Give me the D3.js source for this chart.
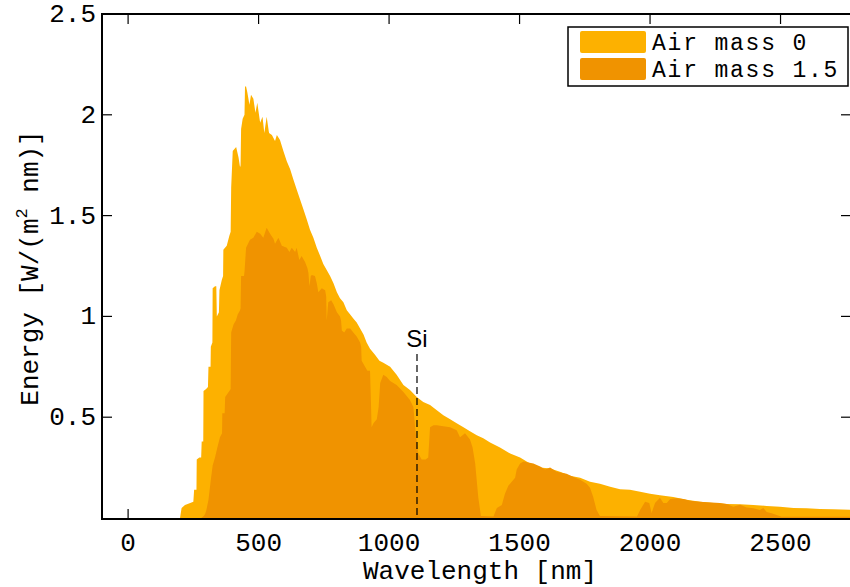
<!DOCTYPE html>
<html>
<head>
<meta charset="utf-8">
<script src="https://cdn.jsdelivr.net/npm/d3@7"></script>
<style>
  html, body { margin: 0; padding: 0; background: #fff; }
  svg { display: block; }
</style>
</head>
<body>
<svg id="chart" width="850" height="587"></svg>
<script>
// ---- data ----
const am0Wavelength = [199,205,218,238,250,253,262,263,273,280,282,288,289,299,306,308,316,317,323,324,333,338,340,348,350,359,364,365,378,388,393,395,401,414,423,429,431,433,439,446,448,452,457,465,471,480,488,495,506,515,522,531,540,551,563,570,582,595,608,621,633,646,659,672,685,697,710,723,736,748,761,774,787,800,812,825,838,851,863,876,889,902,914,927,946,963,978,1004,1029,1055,1080,1106,1131,1157,1183,1208,1234,1259,1285,1310,1336,1361,1387,1425,1464,1502,1540,1579,1617,1655,1693,1732,1770,1808,1847,1885,1923,1962,2000,2038,2089,2140,2192,2243,2294,2345,2396,2447,2498,2550,2600,2651,2702,2766,2800];
const am0Energy = [0.0,0.05,0.065,0.074,0.08,0.14,0.14,0.29,0.30,0.30,0.38,0.38,0.63,0.64,0.65,0.75,0.75,0.85,0.87,1.14,1.15,1.15,1.0,1.02,1.13,1.18,1.2,1.33,1.35,1.40,1.42,1.64,1.82,1.84,1.79,1.74,1.75,1.93,1.98,2.0,2.14,2.14,2.11,2.05,2.10,2.08,2.01,2.06,1.96,1.99,1.91,1.99,1.91,1.90,1.87,1.90,1.875,1.82,1.77,1.73,1.68,1.63,1.58,1.53,1.48,1.43,1.39,1.34,1.30,1.26,1.23,1.20,1.165,1.12,1.09,1.07,1.03,1.01,0.99,0.97,0.94,0.91,0.87,0.84,0.81,0.78,0.77,0.75,0.71,0.66,0.635,0.60,0.575,0.56,0.535,0.51,0.49,0.47,0.45,0.43,0.41,0.395,0.375,0.35,0.32,0.30,0.27,0.25,0.245,0.23,0.21,0.20,0.18,0.17,0.155,0.143,0.14,0.13,0.12,0.113,0.104,0.09,0.08,0.075,0.07,0.068,0.064,0.06,0.056,0.05,0.048,0.045,0.044,0.041,0.04];

const am15Wavelength = [280,290,295,300,308,317,324,333,342,352,360,361,370,372,388,393,395,404,413,420,429,431,433,444,446,452,467,480,493,506,518,531,544,557,563,576,589,608,618,627,640,646,656,665,678,687,691,695,700,704,716,723,729,742,755,759,761,765,767,778,787,800,812,816,819,828,838,851,863,876,889,893,895,908,917,927,930,933,940,953,960,966,978,991,1004,1029,1055,1080,1093,1102,1112,1125,1140,1150,1157,1170,1183,1208,1234,1259,1272,1291,1310,1320,1330,1342,1352,1400,1413,1432,1444,1457,1470,1483,1489,1502,1515,1553,1579,1598,1617,1642,1680,1713,1732,1757,1770,1782,1795,1808,1950,1962,1981,1997,2006,2019,2038,2051,2064,2077,2102,2128,2153,2192,2218,2268,2294,2319,2345,2370,2396,2421,2434,2447,2466,2485,2504,2800];
const am15Energy = [0,0.01,0.02,0.04,0.09,0.19,0.26,0.30,0.35,0.40,0.42,0.52,0.52,0.60,0.63,0.64,0.92,0.96,0.98,1.01,1.03,1.04,1.20,1.20,1.22,1.34,1.38,1.39,1.42,1.41,1.39,1.44,1.41,1.385,1.36,1.39,1.35,1.34,1.32,1.34,1.32,1.34,1.28,1.30,1.27,1.24,1.215,1.15,1.2,1.205,1.20,1.165,1.12,1.14,1.13,1.10,0.98,1.04,1.07,1.08,1.06,1.02,1.00,0.98,0.93,0.92,0.94,0.94,0.92,0.90,0.87,0.85,0.78,0.75,0.73,0.73,0.6,0.45,0.47,0.49,0.55,0.67,0.71,0.70,0.68,0.66,0.625,0.585,0.55,0.42,0.32,0.29,0.29,0.30,0.45,0.46,0.46,0.455,0.45,0.435,0.40,0.42,0.39,0.35,0.27,0.10,0.01,0.008,0.05,0.065,0.12,0.16,0.18,0.20,0.24,0.27,0.28,0.27,0.255,0.24,0.25,0.23,0.22,0.20,0.19,0.17,0.15,0.105,0.04,0.01,0.008,0.04,0.08,0.075,0.025,0.075,0.10,0.074,0.074,0.094,0.098,0.094,0.086,0.08,0.078,0.074,0.07,0.056,0.066,0.052,0.048,0.04,0.05,0.03,0.024,0.015,0.006,0.006];

const seriesNames = ["Air mass 0", "Air mass 1.5"];
const seriesColors = ["#FDB100", "#F09300"];
const xTicks = [0, 500, 1000, 1500, 2000, 2500];
const yTicks = [0.5, 1, 1.5, 2, 2.5];
const siWavelength = 1107;
const siLabel = "Si";

// ---- layout ----
const svg = d3.select("#chart");
const L = 102, R = 851, T = 14, B = 519;
const x = d3.scaleLinear().domain([-100, 2770]).range([L, R]);
const y = d3.scaleLinear().domain([0, 2.5]).range([518, 14]);
const tickLen = 10;
const fontMono = '"Liberation Mono", "Courier New", monospace';

svg.append("defs").append("clipPath").attr("id", "plotclip")
  .append("rect").attr("x", L).attr("y", T).attr("width", R - L).attr("height", B - T);

// ticks (under the fills)
const tickG = svg.append("g").attr("stroke", "#000").attr("stroke-width", 1.2);
xTicks.forEach(t => {
  tickG.append("line").attr("x1", x(t)).attr("x2", x(t)).attr("y1", B).attr("y2", B - tickLen);
  tickG.append("line").attr("x1", x(t)).attr("x2", x(t)).attr("y1", T).attr("y2", T + tickLen);
});
yTicks.forEach(t => {
  tickG.append("line").attr("x1", L).attr("x2", L + tickLen).attr("y1", y(t)).attr("y2", y(t));
  tickG.append("line").attr("x1", R).attr("x2", R - tickLen).attr("y1", y(t)).attr("y2", y(t));
});

// areas
const area = d3.area().x(d => x(d[0])).y0(y(0)).y1(d => y(d[1])).curve(d3.curveLinear);
const am0 = am0Wavelength.map((w, i) => [w, am0Energy[i]]);
const am15 = am15Wavelength.map((w, i) => [w, am15Energy[i]]);
const plot = svg.append("g").attr("clip-path", "url(#plotclip)");
plot.append("path").datum(am0).attr("d", area).attr("fill", seriesColors[0]);
plot.append("path").datum(am15).attr("d", area).attr("fill", seriesColors[1]);

// Si marker
plot.append("line")
  .attr("x1", x(siWavelength)).attr("x2", x(siWavelength))
  .attr("y1", 354).attr("y2", B)
  .attr("stroke", "#000").attr("stroke-width", 1.2).attr("stroke-dasharray", "7,4");
svg.append("text").attr("x", x(siWavelength)).attr("y", 347)
  .attr("text-anchor", "middle")
  .attr("font-family", '"Liberation Sans", Arial, sans-serif')
  .attr("font-size", 24).text(siLabel);

// frame
svg.append("rect").attr("x", L).attr("y", T).attr("width", R - L).attr("height", B - T)
  .attr("fill", "none").attr("stroke", "#000").attr("stroke-width", 2);

// tick labels
xTicks.forEach(t => {
  svg.append("text").attr("x", x(t)).attr("y", 551).attr("text-anchor", "middle")
    .attr("font-family", fontMono).attr("font-size", 26).text(t);
});
yTicks.forEach(t => {
  svg.append("text").attr("x", 96).attr("y", y(t) + 8).attr("text-anchor", "end")
    .attr("font-family", fontMono).attr("font-size", 26).text(String(t));
});

// axis titles
svg.append("text").attr("x", 480).attr("y", 579).attr("text-anchor", "middle")
  .attr("font-family", fontMono).attr("font-size", 26).text("Wavelength [nm]");
const yt = svg.append("text").attr("transform", "translate(38,268) rotate(-90)")
  .attr("text-anchor", "middle").attr("font-family", fontMono).attr("font-size", 26);
yt.append("tspan").text("Energy [W/(m");
yt.append("tspan").attr("font-size", 17).attr("dy", -11).text("2");
yt.append("tspan").attr("dy", 11).text(" nm)]");

// legend
const lg = svg.append("g");
lg.append("rect").attr("x", 568).attr("y", 27).attr("width", 280).attr("height", 59)
  .attr("fill", "#fff").attr("stroke", "#000").attr("stroke-width", 1.5);
seriesNames.forEach((name, i) => {
  lg.append("rect").attr("x", 580).attr("y", 31 + i * 27).attr("width", 66).attr("height", 22)
    .attr("rx", 2).attr("fill", seriesColors[i]);
  lg.append("text").attr("x", 652).attr("y", 50 + i * 27)
    .attr("font-family", fontMono).attr("font-size", 23).attr("letter-spacing", 1.8).text(name);
});
</script>
</body>
</html>
